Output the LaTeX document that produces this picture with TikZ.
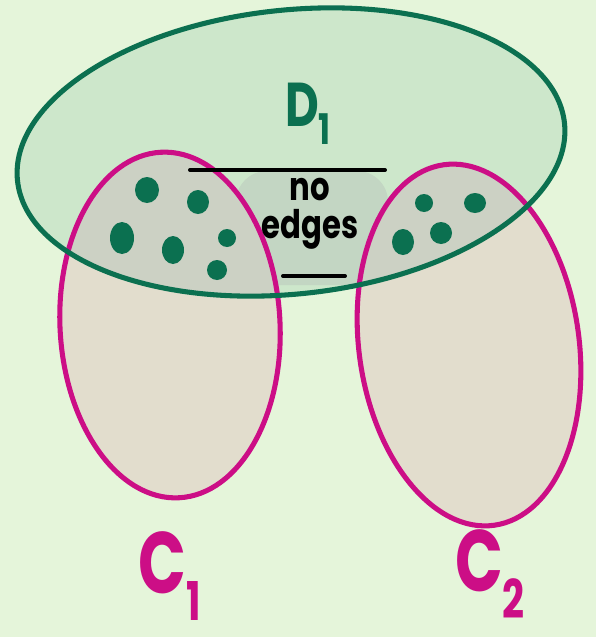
\documentclass[tikz,border=0pt]{standalone}
\usepackage{fontspec}
\setmainfont{Poppins}
\definecolor{bgfill}{HTML}{E5F5DA}
\definecolor{cfill}{HTML}{E2DDCD}
\definecolor{dfill}{HTML}{CDE7CB}
\definecolor{cdfill}{HTML}{CCD1C4}
\definecolor{gapfill}{HTML}{C3D6C3}
\definecolor{cline}{HTML}{CC0E86}
\definecolor{dline}{HTML}{0B7050}
\begin{document}
\begin{tikzpicture}[x=0.025cm,y=-0.025cm,line cap=round,line join=round,
    cset/.style={draw=cline,line width=3.6pt},
    dset/.style={draw=dline,line width=3.6pt},
    cut/.style={draw=black,line width=2.8pt}]
    \useasboundingbox (0,0) rectangle (596,637);
    \fill[bgfill] (0,0) rectangle (596,637);
    \def\cone{(170,325) ellipse (110 and 173)}
    \def\ctwo{(469,345) ellipse (110 and 182)}
    \def\done{(291,152) ellipse (275 and 142)}
    \fill[dfill,rotate around={6:(291,152)}] \done;
    \fill[gapfill,rounded corners=22] (236,171) rectangle (388,285);
    \fill[cfill,rotate around={3:(170,325)}] \cone;
    \fill[cfill,rotate around={8:(469,345)}] \ctwo;
    \begin{scope}
        \clip[rotate around={6:(291,152)}] \done;
        \fill[cdfill,rotate around={3:(170,325)}] \cone;
        \fill[cdfill,rotate around={8:(469,345)}] \ctwo;
    \end{scope}
    \draw[cset,rotate around={3:(170,325)}] \cone;
    \draw[cset,rotate around={8:(469,345)}] \ctwo;
    \draw[dset,rotate around={6:(291,152)}] \done;
    \tikzset{dot/.pic={\fill[dline] (0,0) ellipse ({\ra} and {\rb});}}
    \foreach \x/\y/\ra/\rb in {147/190/12/13,198/202/11/12,122/238/12/16,173/250/11/14,227/238/9/9,217/270/10/10,
        424/203/9/9,475/203/11/10,403/242/11/13,441/233/11/11}{\pic at (\x,\y) {dot};}
    \node[font=\bfseries\fontsize{28}{24}\selectfont,align=center,xscale=0.78] (gaptext) at (310,214) {no\\[3pt]edges};
    \coordinate (topleft) at (190,170);
    \coordinate (topright) at (385,170);
    \coordinate (botleft) at (283,276);
    \coordinate (botright) at (345,276);
    \draw[cut] (topleft) -- (topright);
    \draw[cut] (botleft) -- (botright);
    \node[text=dline,font=\bfseries\fontsize{44}{44}\selectfont,xscale=0.75] (d1label) at (308,114)
        {D\raisebox{-0.3em}{\fontsize{30}{30}\selectfont 1}};
    \node[text=cline,font=\bfseries\fontsize{62}{62}\selectfont,xscale=0.72] (c1label) at (170,576)
        {C\raisebox{-0.3em}{\fontsize{38}{38}\selectfont 1}};
    \node[text=cline,font=\bfseries\fontsize{62}{62}\selectfont,xscale=0.72] (c2label) at (490,574)
        {C\raisebox{-0.3em}{\fontsize{38}{38}\selectfont 2}};
\end{tikzpicture}
\end{document}
